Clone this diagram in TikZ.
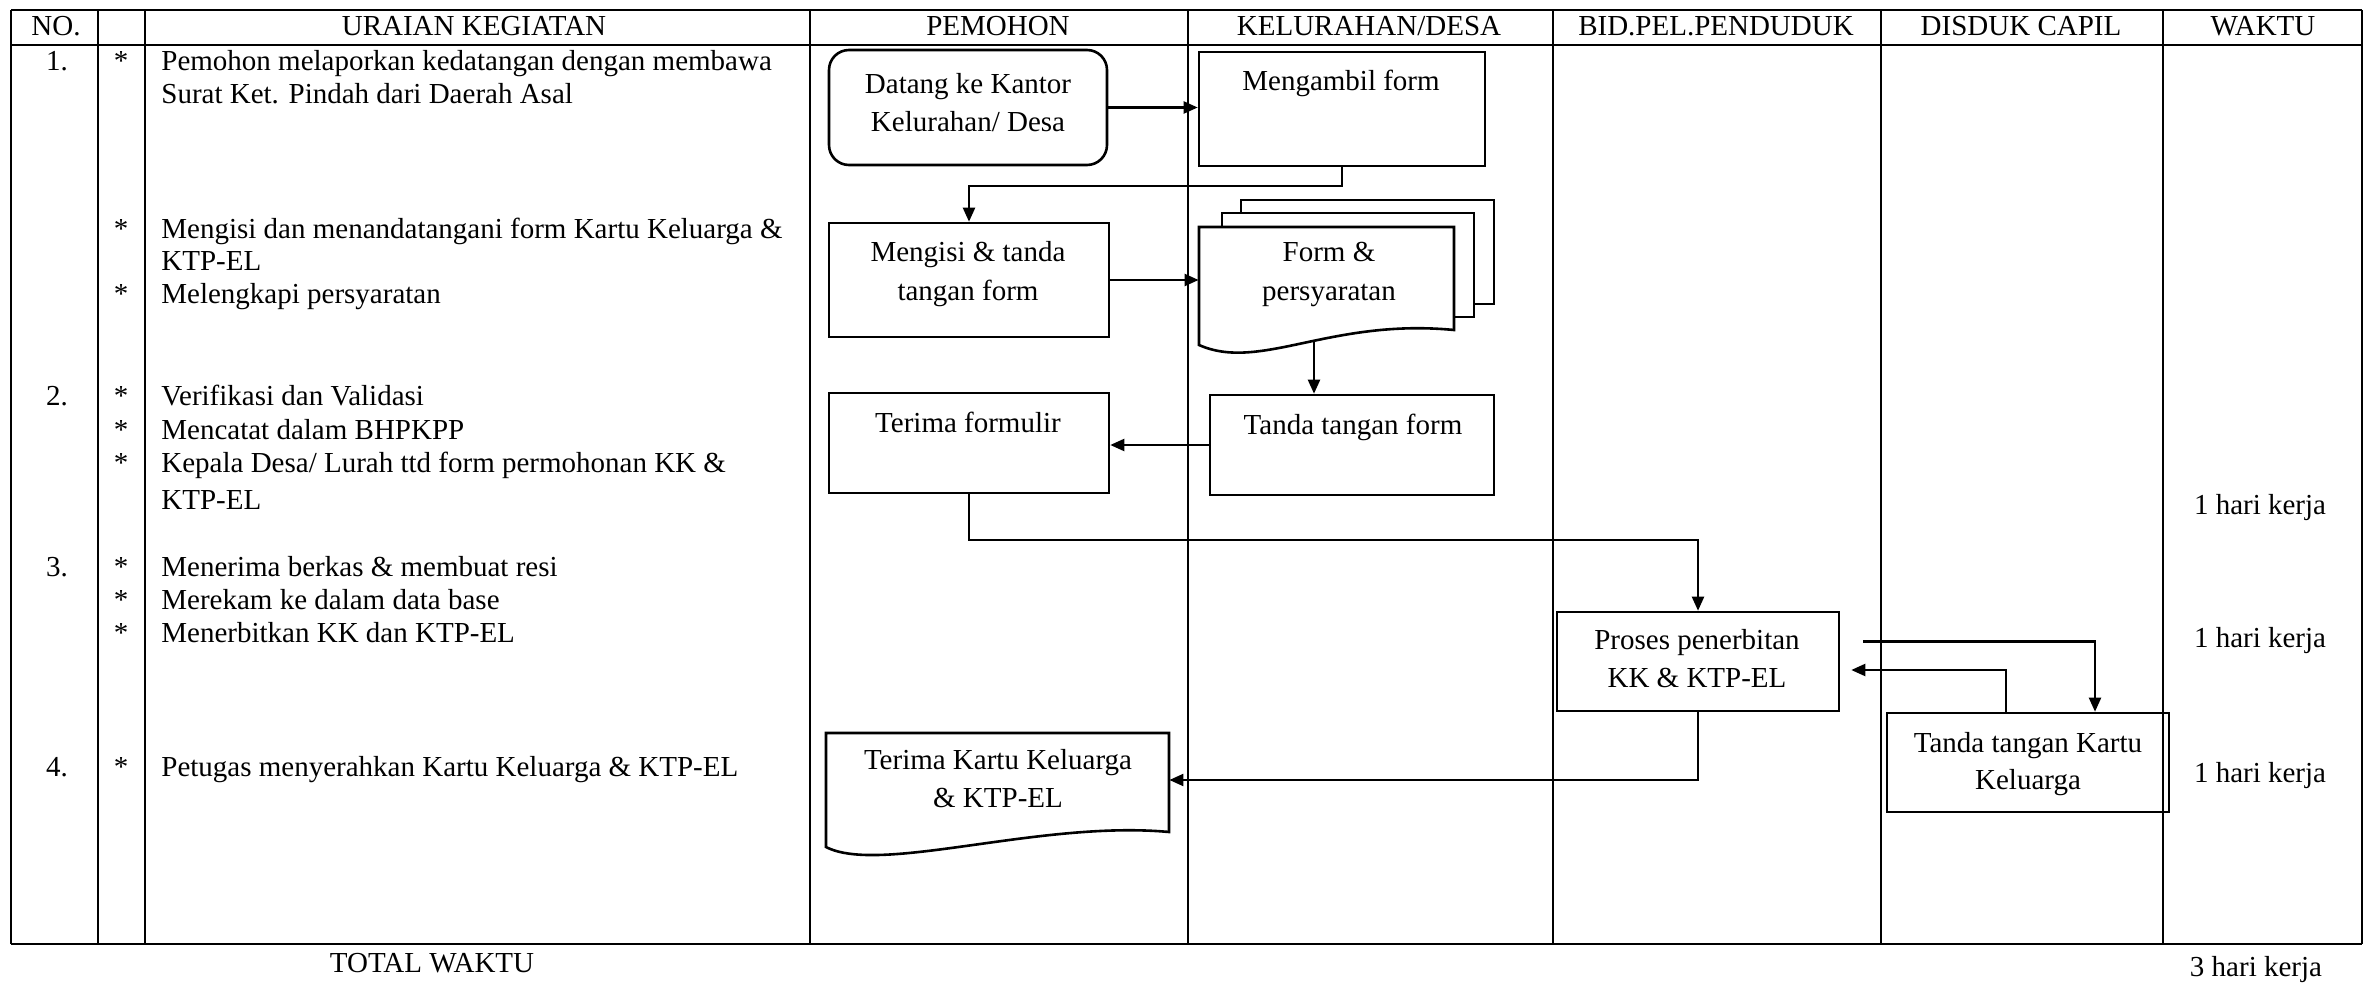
\documentclass[tikz,border=0pt]{standalone}
\usepackage{fontspec}
\setmainfont{Liberation Serif}
\usetikzlibrary{arrows.meta,calc}

\begin{document}
\begin{tikzpicture}[x=0.5pt,y=-0.5pt,
  txt/.style={inner sep=0pt, font=\fontsize{14.5}{17}\selectfont},
  lt/.style={txt, anchor=base west},
  ct/.style={txt, anchor=base},
  grid/.style={line width=0.9pt},
  rule/.style={line width=1.3pt},
  box/.style={draw, line width=1.3pt, inner sep=0pt},
  area/.style={inner sep=0pt},
  docline/.style={line width=1.3pt},
  flow/.style={line width=1.1pt, -{Triangle[length=7pt,width=6pt]}},
  link/.style={line width=1.1pt}
]
\useasboundingbox (0,0) rectangle (2368,984);

% ---- table frame ----
\foreach \x in {11,98,145,810,1188,1553,1881,2163,2362}
  \draw[grid] (\x,10) -- (\x,944);
\draw[rule] (11,10) -- (2362,10);
\draw[rule] (11,45) -- (2362,45);
\draw[rule] (11,944) -- (2362,944);

% ---- header ----
\node[ct] (hno)  at (56,36)   {NO.};
\node[ct] (hur)  at (474,36)  {URAIAN KEGIATAN};
\node[ct] (hpm)  at (998,36)  {PEMOHON};
\node[ct] (hkl)  at (1369,36) {KELURAHAN/DESA};
\node[ct] (hbd)  at (1716,36) {BID.PEL.PENDUDUK};
\node[ct] (hdc)  at (2021,36) {DISDUK CAPIL};
\node[ct] (hwk)  at (2263,36) {WAKTU};

% ---- step numbers and bullets ----
\node[ct] (n1) at (57,71)  {1.};
\node[ct] (n2) at (57,406) {2.};
\node[ct] (n3) at (57,576) {3.};
\node[ct] (n4) at (57,776) {4.};
\foreach \y [count=\i] in {71,239,304,406,439,472,576,609,642,776}
  \node[ct] (star\i) at (121,\y) {*};

% ---- activity descriptions ----
\foreach \y/\s [count=\i] in {
  71/{Pemohon melaporkan kedatangan dengan membawa},
  104/{Surat Ket. Pindah dari Daerah Asal},
  239/{Mengisi dan menandatangani form Kartu Keluarga \&},
  271/{KTP-EL},
  304/{Melengkapi persyaratan},
  406/{Verifikasi dan Validasi},
  439/{Mencatat dalam BHPKPP},
  472/{Kepala Desa/ Lurah ttd form permohonan KK \&},
  509/{KTP-EL},
  576/{Menerima berkas \& membuat resi},
  609/{Merekam ke dalam data base},
  642/{Menerbitkan KK dan KTP-EL},
  776/{Petugas menyerahkan Kartu Keluarga \& KTP-EL}}
  \node[lt] (desc\i) at (161,\y) {\s};

% ---- process boxes ----
\node[box, rounded corners=10pt, minimum width=139pt, minimum height=57.5pt] (datang) at (968,107.5) {};
\node[ct] (datangA) at (968,94)  {Datang ke Kantor};
\node[ct] (datangB) at (968,132) {Kelurahan/ Desa};

\node[box, minimum width=143pt, minimum height=57pt] (ambil) at (1342,109) {};
\node[ct] (ambilA) at (1341,91) {Mengambil form};

\node[box, minimum width=140pt, minimum height=57pt] (isi) at (969,280) {};
\node[ct] (isiA) at (968,262) {Mengisi \& tanda};
\node[ct] (isiB) at (968,301) {tangan form};

% stacked document: form & requirements
\node[area, minimum width=127.5pt, minimum height=56pt] (form) at (1326.5,283) {};
\draw[docline] (1241,213) -- (1241,200) -- (1494,200) -- (1494,304) -- (1474,304);
\draw[docline] (1222,227) -- (1222,213) -- (1474,213) -- (1474,317) -- (1454,317);
\draw[docline] (1199,345) -- (1199,227) -- (1454,227) -- (1454,330)
  .. controls (1330,318) and (1260,372) .. (1199,345) -- cycle;
\node[ct] (formA) at (1329,262) {Form \&};
\node[ct] (formB) at (1329,301) {persyaratan};
\coordinate (formtail) at (1314,342);

\node[box, minimum width=140pt, minimum height=50pt] (terform) at (969,443) {};
\node[ct] (terformA) at (968,432) {Terima formulir};

\node[box, minimum width=142pt, minimum height=50pt] (ttform) at (1352,445) {};
\node[ct] (ttformA) at (1353,434) {Tanda tangan form};

\node[box, minimum width=141pt, minimum height=49.5pt] (proses) at (1698,661.5) {};
\node[ct] (prosesA) at (1697,649) {Proses penerbitan};
\node[ct] (prosesB) at (1697,687) {KK \& KTP-EL};

\node[box, minimum width=141pt, minimum height=49.5pt] (ttk) at (2028,762.5) {};
\node[ct] (ttkA) at (2028,752) {Tanda tangan Kartu};
\node[ct] (ttkB) at (2028,789) {Keluarga};

% document: receipt of family card
\node[area, minimum width=171.5pt, minimum height=47pt] (terkartu) at (997.5,780) {};
\draw[docline] (826,847) -- (826,733) -- (1169,733) -- (1169,832)
  .. controls (1040,820) and (880,875) .. (826,847) -- cycle;
\node[ct] (terkartuA) at (998,769) {Terima Kartu Keluarga};
\node[ct] (terkartuB) at (998,807) {\& KTP-EL};

% ---- connectors ----
\draw[flow] (datang.east) -- (datang.east -| ambil.west);
\draw[flow] (ambil.south) -- ++(0,19) -| (isi.north);
\draw[flow] (isi.east) -- (isi.east -| form.west);
\draw[flow] (formtail) -- (formtail |- ttform.north);
\draw[flow] (ttform.west) -- (ttform.west -| terform.east);
\draw[flow] (terform.south) -- ++(0,46) -| (proses.north);
\draw[flow] ($(proses.east)+(23,-20)$) -| ($(ttk.north)+(67,0)$);
\draw[flow] ($(ttk.north)+(-22,0)$) |- ($(proses.east)+(11,8.5)$);
\draw[flow] (proses.south) |- (terkartu.east);

% ---- durations ----
\node[ct] (w1) at (2260,514) {1 hari kerja};
\node[ct] (w2) at (2260,647) {1 hari kerja};
\node[ct] (w3) at (2260,782) {1 hari kerja};
\node[ct] (total) at (432,972) {TOTAL WAKTU};
\node[ct] (wtot) at (2256,976) {3 hari kerja};
\end{tikzpicture}
\end{document}
